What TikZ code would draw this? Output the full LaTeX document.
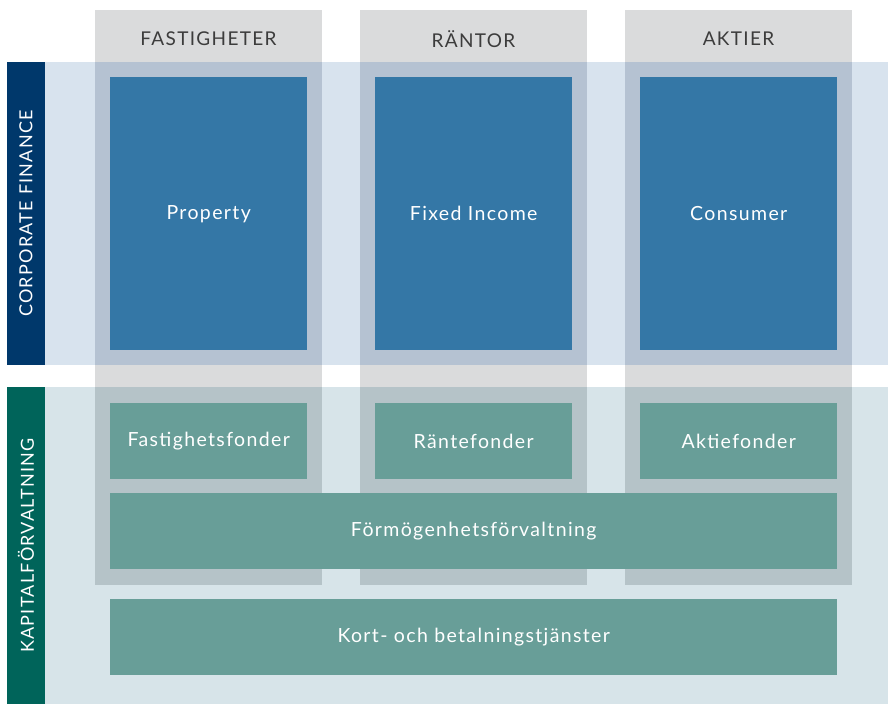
\documentclass[tikz,border=0pt]{standalone}
\usepackage{fontspec}
\setmainfont[LetterSpace=7]{Lato}
\definecolor{navy}{HTML}{00386B}
\definecolor{bandblue}{HTML}{D8E3EE}
\definecolor{colgray}{HTML}{DADBDC}
\definecolor{mixblue}{HTML}{B5C2D2}
\definecolor{boxblue}{HTML}{3477A6}
\definecolor{darkteal}{HTML}{00645A}
\definecolor{bandteal}{HTML}{D7E4E9}
\definecolor{mixteal}{HTML}{B5C3C8}
\definecolor{boxgreen}{HTML}{689E98}
\definecolor{headgray}{HTML}{3C3C3C}
\tikzset{
  bluebox/.style={fill=boxblue, text=white, anchor=north west, minimum width=197, minimum height=273, inner sep=0, font=\fontsize{19.5}{22}\selectfont},
  greenbox/.style={fill=boxgreen, text=white, anchor=north west, minimum height=76, inner sep=0, font=\fontsize{19.5}{22}\selectfont},
  header/.style={text=headgray, font=\fontsize{19}{22}\selectfont},
  sidelabel/.style={text=white, rotate=90, font=\fontsize{18}{21}\selectfont}
}
\begin{document}
\begin{tikzpicture}[x=1pt,y=-1pt]
    \useasboundingbox (0,0) rectangle (888,704);
    % bands
    \fill[bandblue] (7,62) rectangle (888,365);
    \fill[bandteal] (7,387) rectangle (888,704);
    \fill[navy] (7,62) rectangle (45,365);
    \fill[darkteal] (7,387) rectangle (45,704);
    % columns
    \foreach \x/\name/\head in {95/fast/FASTIGHETER, 360/rant/RÄNTOR, 625/akt/AKTIER}
        {\fill[colgray] (\x,10) rectangle (\x+227,585);
        \fill[mixblue] (\x,62) rectangle (\x+227,365);
        \fill[mixteal] (\x,387) rectangle (\x+227,585);
        \node[header] (\name head) at (\x+113.5,39) {\head};}
    \node[sidelabel] (cf) at (26,213.5) {CORPORATE FINANCE};
    \node[sidelabel] (kf) at (26,545.5) {KAPITALFÖRVALTNING};
    % boxes
    \node[bluebox] (property) at (110,77) {Property};
    \node[bluebox] (fixed) at (375,77) {Fixed Income};
    \node[bluebox] (consumer) at (640,77) {Consumer};
    \node[greenbox, minimum width=197] (fastfond) at (110,403) {Fastighetsfonder};
    \node[greenbox, minimum width=197] (rantfond) at (375,403) {Räntefonder};
    \node[greenbox, minimum width=197] (aktfond) at (640,403) {Aktiefonder};
    \node[greenbox, minimum width=727] (formogen) at (110,493) {Förmögenhetsförvaltning};
    \node[greenbox, minimum width=727] (kort) at (110,599) {Kort- och betalningstjänster};
\end{tikzpicture}
\end{document}
